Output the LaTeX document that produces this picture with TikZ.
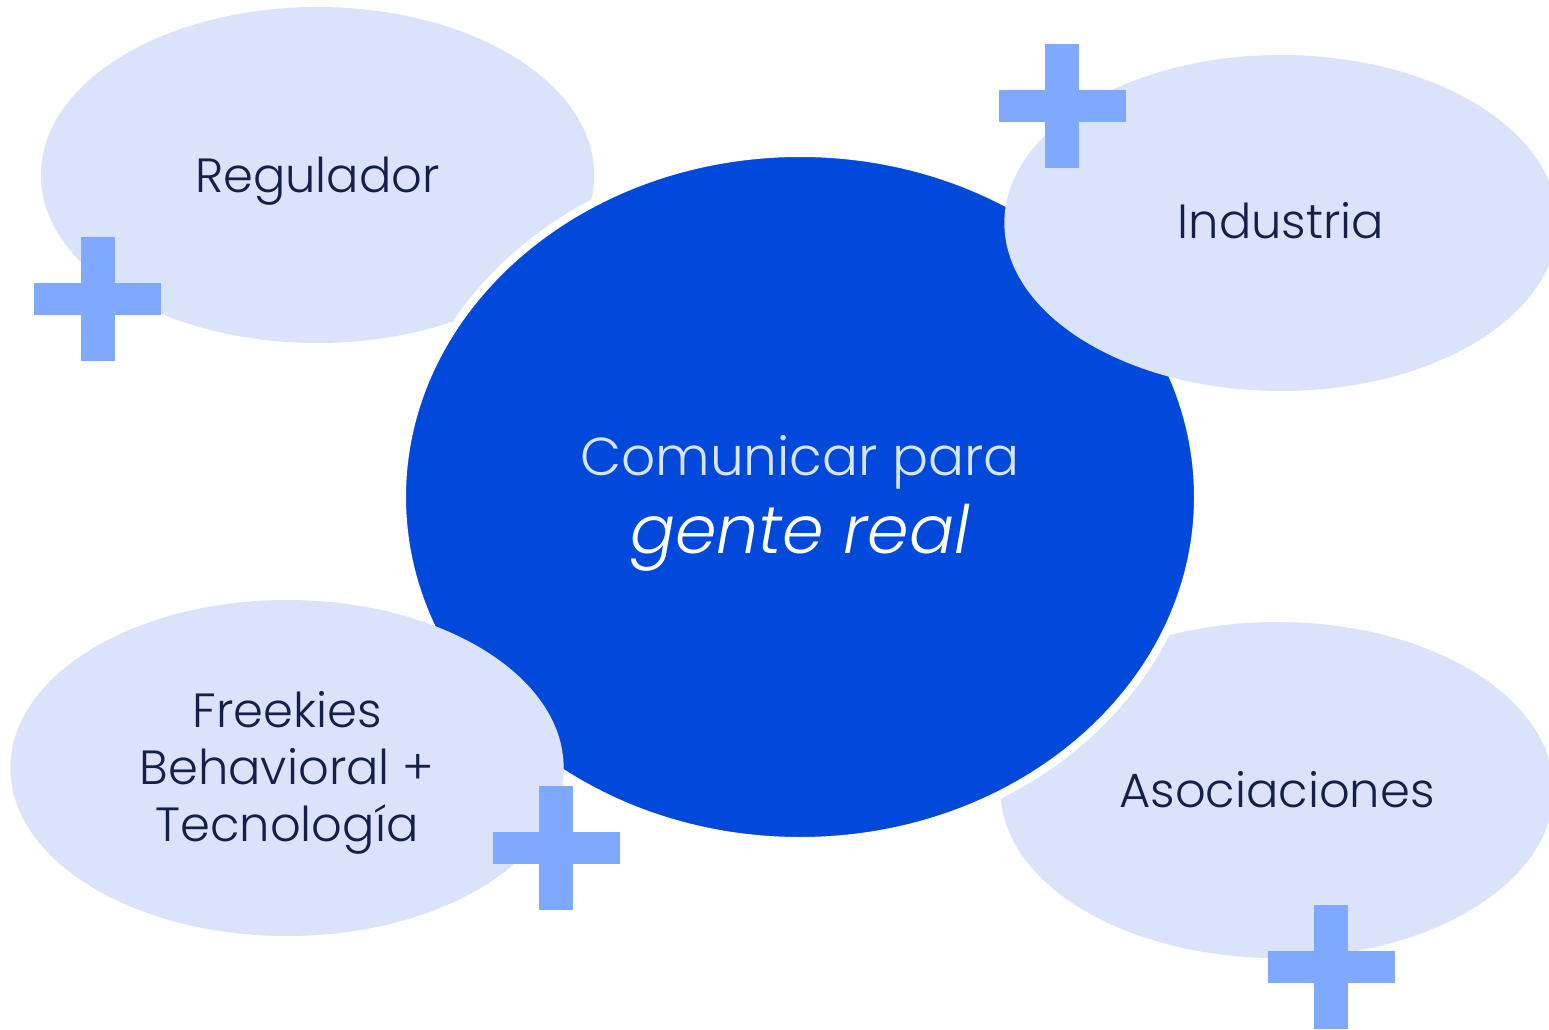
\documentclass[tikz,border=0pt]{standalone}
\usepackage{fontspec}
\setmainfont{Poppins}[UprightFont={* Light}, ItalicFont={* Light Italic}, BoldFont={* Medium}]
\usetikzlibrary{shapes.geometric}
\definecolor{bigblue}{HTML}{0049DB}
\definecolor{pale}{HTML}{DAE3F9}
\definecolor{plusblue}{HTML}{7FA8FF}
\definecolor{navy}{HTML}{14204A}
\definecolor{lightline}{HTML}{D9E4FF}
\tikzset{
  px/.style={x=0.75pt,y=-0.75pt},
  bubble/.style={ellipse, fill=pale, inner sep=0pt,
    minimum width=415pt, minimum height=252pt},
  lbl/.style={text=navy, align=center, inner sep=0pt,
    font=\fontsize{36}{42.75}\selectfont},
  core/.style={ellipse, fill=bigblue, draw=white, line width=6pt, inner sep=0pt,
    minimum width=597pt, minimum height=516pt},
  plusmark/.pic={
    \fill[plusblue] (-63.5,-16) rectangle (63.5,16);
    \fill[plusblue] (-17,-62) rectangle (17,62);
  }
}
\begin{document}
\begin{tikzpicture}[px]
\useasboundingbox (0,0) rectangle (1549,1030);
\node[bubble] (reg) at (317.5,175) {};
\node[bubble] (aso) at (1277,790) {};
\node[core] (center) at (800,497) {};
\node[bubble] (ind) at (1281,223) {};
\node[bubble] (fre) at (287,768) {};
\pic at (97.5,299) {plusmark};
\pic at (1062,106) {plusmark};
\pic at (556,848) {plusmark};
\pic at (1331,967) {plusmark};
\node[lbl, anchor=base] (reglbl) at (317.5,193) {Regulador};
\node[lbl, anchor=base] (indlbl) at (1281,239) {Industria};
\node[lbl, anchor=base] (asolbl) at (1277,807) {Asociaciones};
\node[lbl] (frelbl) at (287,773) {Freekies\\Behavioral +\\Tecnología};
\node[align=center, inner sep=0pt] (corelbl) at (800,503) {%
  {\color{lightline}\fontsize{40}{48}\selectfont Comunicar para}\\[10pt]
  {\color{white}\fontsize{50}{52}\selectfont\itshape gente real}};
\end{tikzpicture}
\end{document}
